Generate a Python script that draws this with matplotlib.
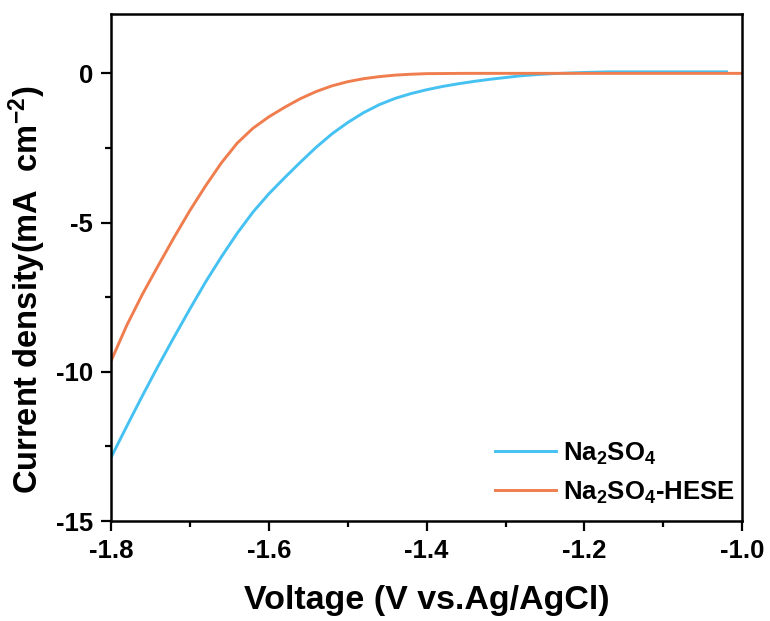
import matplotlib
matplotlib.use("Agg")
import matplotlib.pyplot as plt
from matplotlib.ticker import MultipleLocator

plt.rcParams['font.family'] = ['Liberation Sans', 'DejaVu Sans']
plt.rcParams['font.weight'] = 'bold'
plt.rcParams['axes.unicode_minus'] = False
plt.rcParams['mathtext.fontset'] = 'custom'
plt.rcParams['mathtext.rm'] = 'Liberation Sans:bold'
plt.rcParams['mathtext.bf'] = 'Liberation Sans:bold'
plt.rcParams['mathtext.it'] = 'Liberation Sans:bold'
plt.rcParams['mathtext.default'] = 'rm'

# ---- data ----
v_na2so4 = [-1.80, -1.78, -1.76, -1.74, -1.72, -1.70, -1.68, -1.66, -1.64, -1.62,
            -1.60, -1.58, -1.56, -1.54, -1.52, -1.50, -1.48, -1.46, -1.44, -1.42,
            -1.40, -1.38, -1.36, -1.34, -1.32, -1.30, -1.28, -1.26, -1.24, -1.22,
            -1.20, -1.17, -1.10, -1.02]
j_na2so4 = [-12.88, -11.83, -10.80, -9.80, -8.84, -7.90, -6.99, -6.15, -5.36, -4.65,
            -4.04, -3.50, -2.98, -2.48, -2.03, -1.65, -1.32, -1.05, -0.84, -0.68,
            -0.55, -0.44, -0.35, -0.27, -0.20, -0.14, -0.08, -0.04, -0.01, 0.01,
            0.03, 0.05, 0.05, 0.05]

v_hese = [-1.80, -1.78, -1.76, -1.74, -1.72, -1.70, -1.68, -1.66, -1.64, -1.62,
          -1.60, -1.58, -1.56, -1.54, -1.52, -1.50, -1.48, -1.46, -1.44, -1.42,
          -1.40, -1.35, -1.30, -1.20, -1.10, -1.00]
j_hese = [-9.65, -8.45, -7.40, -6.44, -5.50, -4.60, -3.77, -3.00, -2.34, -1.84,
          -1.46, -1.14, -0.85, -0.61, -0.42, -0.28, -0.18, -0.11, -0.06, -0.03,
          -0.01, 0.0, 0.0, 0.0, 0.0, 0.0]

labels = [r'Na$_2$SO$_4$', r'Na$_2$SO$_4$-HESE']
colors = ['#45C1F2', '#EF7D4E']
xticks = [-1.8, -1.6, -1.4, -1.2, -1.0]
yticks = [-15, -10, -5, 0]

fig = plt.figure(figsize=(7.70, 6.21), dpi=100)
ax = fig.add_axes([0.144, 0.161, 0.820, 0.817])

ax.plot(v_na2so4, j_na2so4, color=colors[0], lw=2.1, label=labels[0])
ax.plot(v_hese, j_hese, color=colors[1], lw=2.1, label=labels[1])

ax.set_xlim(-1.8, -1.0)
ax.set_ylim(-15, 2)
ax.set_xticks(xticks)
ax.set_xticklabels([f'{t:.1f}' for t in xticks])
ax.set_yticks(yticks)
ax.set_yticklabels([str(t) for t in yticks])
ax.xaxis.set_minor_locator(MultipleLocator(0.1))
ax.yaxis.set_minor_locator(MultipleLocator(2.5))

for s in ax.spines.values():
    s.set_linewidth(1.8)
ax.tick_params(axis='both', which='major', direction='out', length=7, width=1.6,
               labelsize=18.5, pad=6)
ax.tick_params(axis='both', which='minor', direction='out', length=4, width=1.6)
ax.tick_params(top=False, right=False, which='both')

ax.set_xlabel('Voltage (V vs.Ag/AgCl)', fontsize=24.5, fontweight='bold', labelpad=16)
ax.set_ylabel(r'Current density(mA  cm$^{-2}$)', fontsize=23.5, fontweight='bold')
ax.yaxis.set_label_coords(-0.10, 0.455)

leg = ax.legend(loc='lower right', frameon=False, fontsize=18.5, handlelength=2.4,
                handletextpad=0.25, labelspacing=0.5, borderaxespad=0.2,
                bbox_to_anchor=(1.012, 0.0))

fig.savefig('out.png', dpi=100)
